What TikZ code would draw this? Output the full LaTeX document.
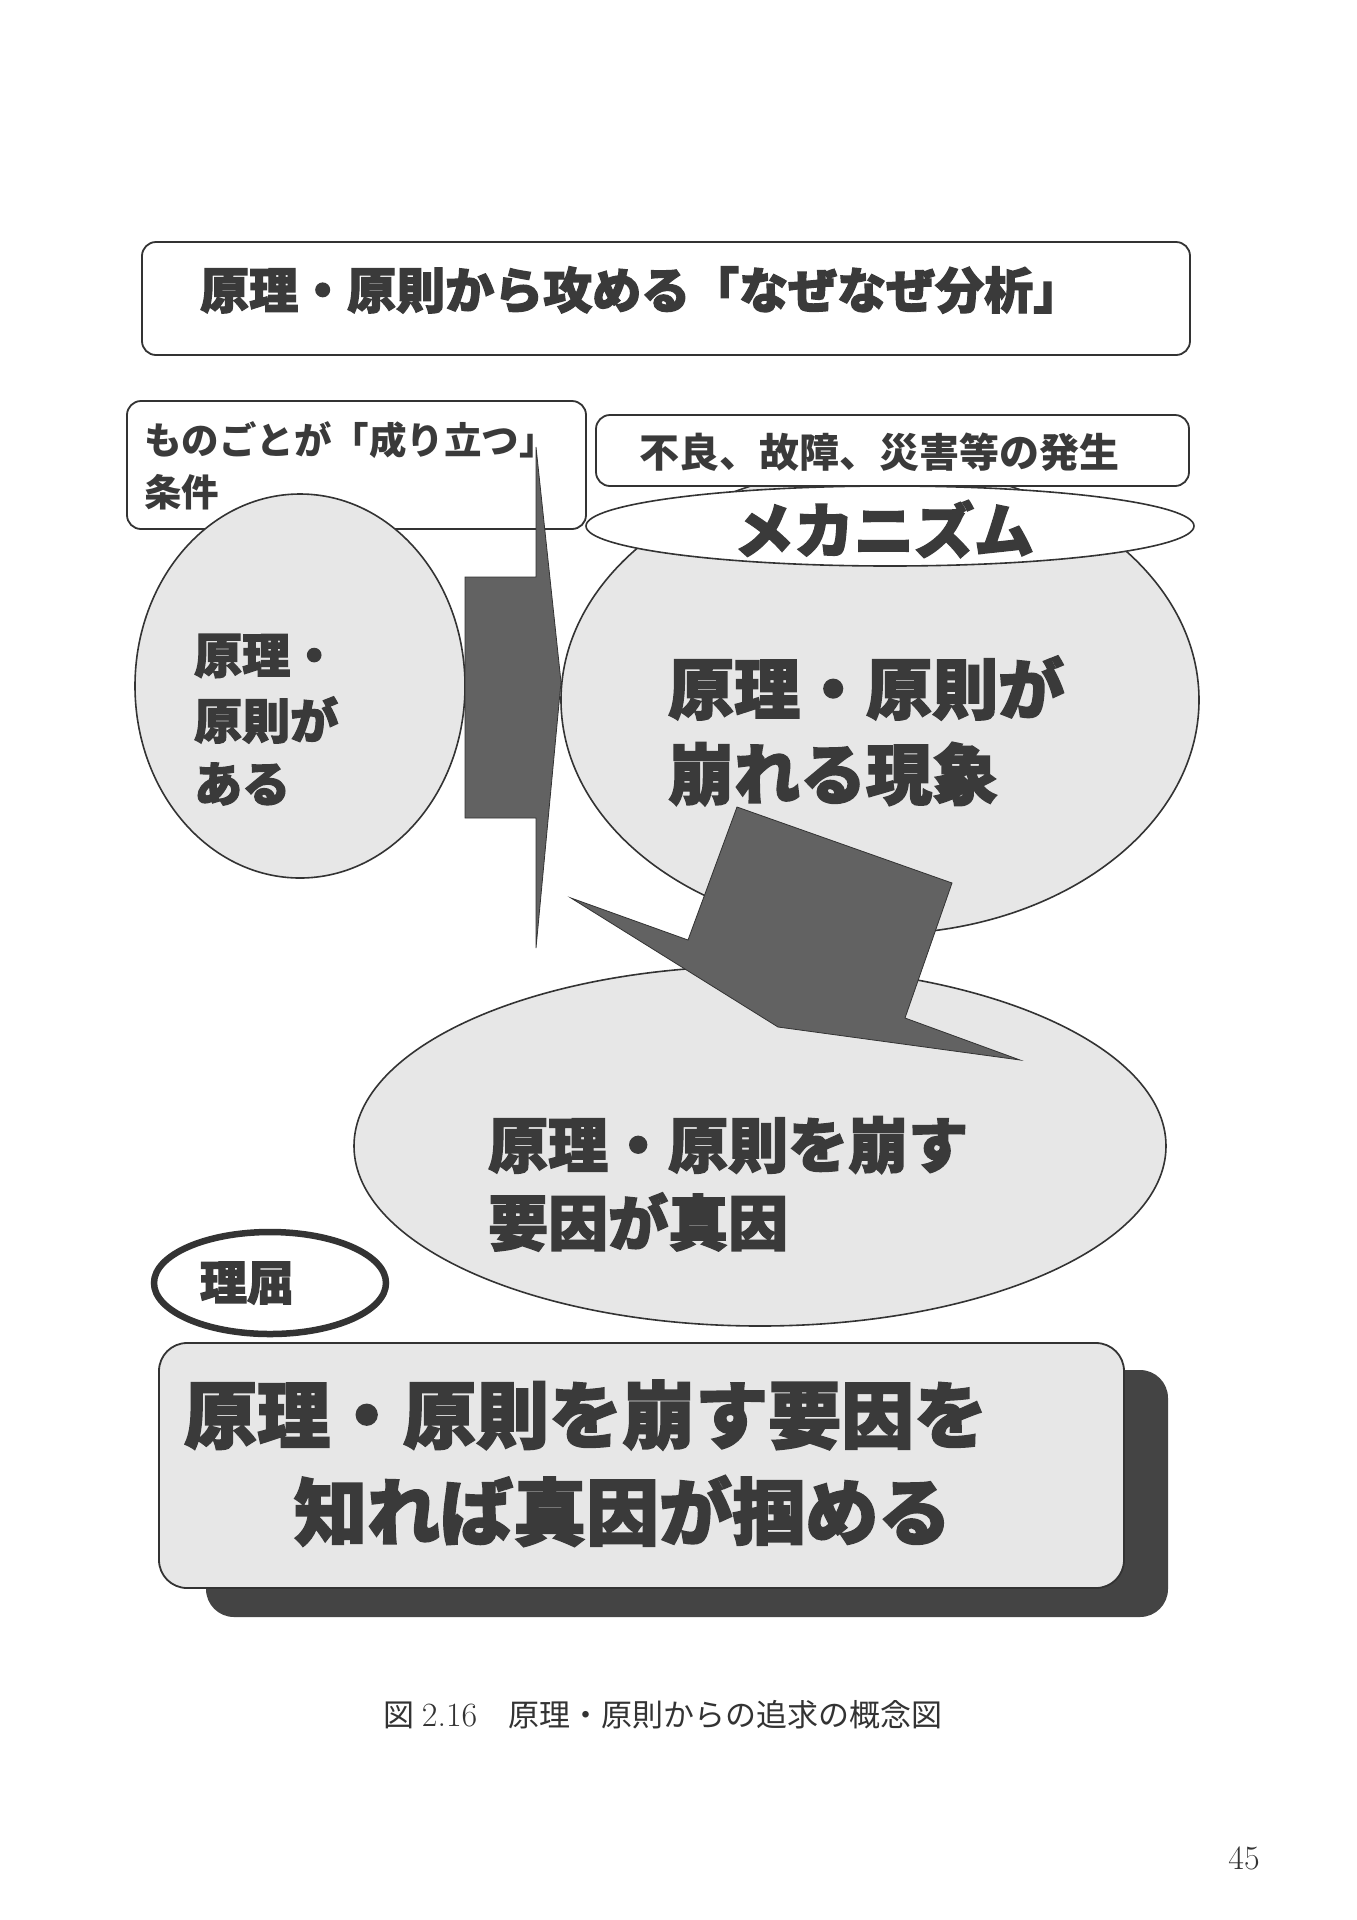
\documentclass[tikz,border=0pt]{standalone}
\usepackage{fontspec}
\newfontfamily\jp{Noto Sans CJK JP}
\newfontfamily\jph{Noto Sans CJK JP}[BoldFeatures={FakeBold=2.5}]
\definecolor{fillg}{HTML}{E7E7E7}
\definecolor{arrg}{HTML}{626262}
\definecolor{shad}{HTML}{444444}
\definecolor{txt}{HTML}{3A3A3A}
\definecolor{edge}{HTML}{333333}
\begin{document}
\begin{tikzpicture}[x=1pt,y=-1pt,
  box/.style={draw=edge, line width=1.8pt, rounded corners=14pt, fill=white},
  blob/.style={draw=edge, line width=1.6pt, fill=fillg},
  arr/.style={draw=edge, line width=0.8pt, fill=arrg},
  lbl/.style={text=txt, inner sep=0pt, anchor=west},
  fs/.style={font=\jp\bfseries\fontsize{#1}{#1}\selectfont},
  fh/.style={font=\jph\bfseries\fontsize{#1}{#1}\selectfont}
]
\useasboundingbox[fill=white] (0,0) rectangle (1357,1920);

% title
\draw[box] (142,242) rectangle (1190,355);
\node[lbl, fh=49] (title) at (200,290) {原理・原則から攻める「なぜなぜ分析」};

% right circle (under the boxes and the ellipse)
\draw[blob] (880,700) ellipse [x radius=319pt, y radius=234pt];

% box A
\draw[box] (127,401) rectangle (586,529);
\node[lbl, fs=37.5] (a1) at (144,440) {ものごとが「成り立つ」};
\node[lbl, fs=37.5] (a2) at (144,492) {条件};

% box B
\draw[box] (596,415) rectangle (1189,486);
\node[lbl, anchor=center, fs=40] (b1) at (879,452) {不良、故障、災害等の発生};

% left circle
\draw[blob] (300,686) ellipse [x radius=165pt, y radius=192pt];
\node[lbl, fh=48] (l1) at (194,656) {原理・};
\node[lbl, fh=48] (l2) at (194,720) {原則が};
\node[lbl, fh=48] (l3) at (194,784) {ある};

% right circle text
\node[lbl, fh=66] (r1) at (668,688) {原理・原則が};
\node[lbl, fh=66] (r2) at (668,774) {崩れる現象};

% mechanism ellipse
\draw[draw=edge, line width=1.6pt, fill=white] (890,526) ellipse [x radius=304pt, y radius=40pt];
\node[lbl, anchor=center, fh=60] (mech) at (884,529) {メカニズム};

% left arrow
\draw[arr] (465,577) -- (536,577) -- (536,447) -- (561,682) -- (536,948) -- (536,818) -- (465,818) -- cycle;

% lower ellipse
\draw[blob] (760,1146) ellipse [x radius=406pt, y radius=180pt];
\node[lbl, fh=60] (m1) at (488,1145) {原理・原則を崩す};
\node[lbl, fh=60] (m2) at (488,1222) {要因が真因};

% big arrow
\draw[arr] (737,807) -- (952,883) -- (905,1018) -- (1020,1060) -- (778,1027) -- (571,898) -- (688,940) -- cycle;

% riku ellipse
\draw[draw=edge, line width=6.5pt, fill=white] (270,1283) ellipse [x radius=116pt, y radius=51pt];
\node[lbl, anchor=center, fh=47] (riku) at (247,1283) {理屈};

% bottom box
\fill[shad, rounded corners=28pt] (206,1370) rectangle (1168,1617);
\draw[draw=edge, line width=1.8pt, fill=fillg, rounded corners=28pt] (159,1343) rectangle (1124,1588);
\node[lbl, fh=73] (k1) at (184,1415) {原理・原則を崩す要因を};
\node[lbl, fh=73] (k2) at (294,1511) {知れば真因が掴める};

% caption
\node[lbl, text=black!80, font=\fontsize{31}{31}\selectfont] (cap) at (383,1715) {{\jp 図}\hspace{0.25em}{\fontsize{34}{34}\selectfont 2.16}\hspace{1em}{\jp 原理・原則からの追求の概念図}};
\node[text=black!80, inner sep=0pt, font=\fontsize{34}{34}\selectfont] (page) at (1244,1858) {45};
\end{tikzpicture}
\end{document}
